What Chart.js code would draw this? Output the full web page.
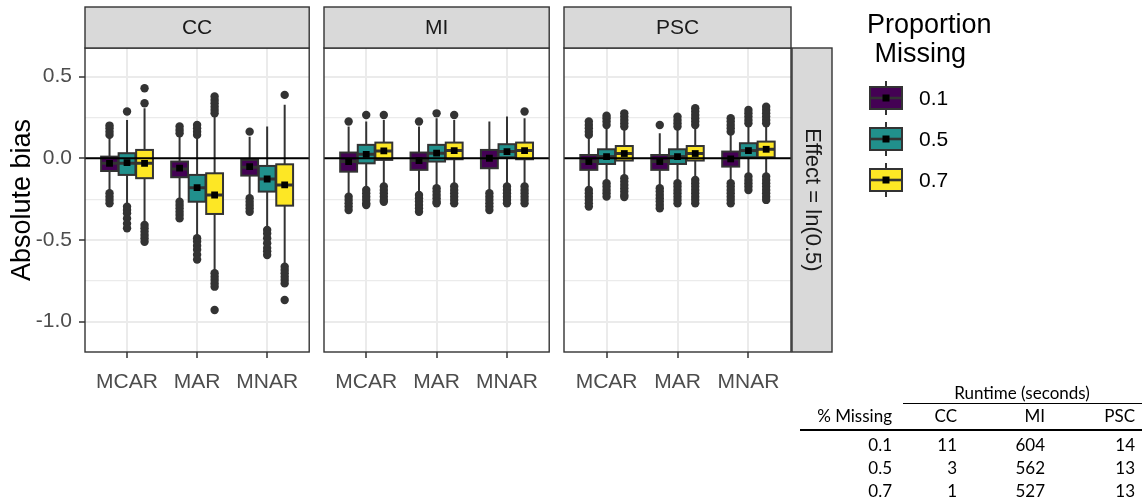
<!DOCTYPE html>
<html>
<head>
<meta charset="utf-8">
<script src="https://cdn.jsdelivr.net/npm/chart.js@4.4.1/dist/chart.umd.min.js"></script>
<style>
  body { margin: 0; background: #fff; width: 1142px; height: 503px; overflow: hidden; position: relative; }
  canvas { position: absolute; top: 0; }
  .cell { position: absolute; white-space: nowrap; font-family: Lato, "Open Sans", sans-serif; font-size: 17px; line-height: 20px; height: 20px; color: #000; }
  .rule { position: absolute; background: #000; }
</style>
</head>
<body>
<canvas id="cc" width="314" height="400" style="left:0px"></canvas>
<canvas id="mi" width="236" height="400" style="left:318px"></canvas>
<canvas id="psc" width="442" height="400" style="left:558px"></canvas>
<div id="runtime"></div>
<script>
// facets, x categories, fill groups
const panels = ['CC', 'MI', 'PSC'];
const mechanisms = ['MCAR', 'MAR', 'MNAR'];
const proportions = ['0.1', '0.5', '0.7'];
const yTicks = [-1.0, -0.75, -0.5, -0.25, 0, 0.25, 0.5];
const refLine = 0;

// boxes in order MCAR 0.1/0.5/0.7, MAR ..., MNAR ...
// [lower whisker, Q1, median, Q3, upper whisker]
const ccBoxes = [
  [-0.204, -0.078, -0.031, 0.010, 0.132],
  [-0.286, -0.102, -0.031, 0.031, 0.235],
  [-0.398, -0.122, -0.031, 0.051, 0.306],
  [-0.255, -0.116, -0.065, -0.020, 0.143],
  [-0.480, -0.266, -0.180, -0.102, 0.132],
  [-0.694, -0.341, -0.225, -0.092, 0.265],
  [-0.235, -0.106, -0.055, -0.010, 0.132],
  [-0.429, -0.204, -0.127, -0.047, 0.194],
  [-0.653, -0.290, -0.163, -0.037, 0.327]
];
const ccMeans = [-0.031, -0.027, -0.031, -0.061, -0.180, -0.225, -0.051, -0.127, -0.163];
const ccOutliers = [
  [0.143, 0.163, 0.184, 0.200, -0.214, -0.235, -0.255, -0.276],
  [0.286, -0.296, -0.317, -0.337, -0.368, -0.400, -0.429],
  [0.337, 0.429, -0.408, -0.429, -0.449, -0.470, -0.490, -0.511],
  [0.153, 0.173, 0.194, -0.266, -0.286, -0.306, -0.327, -0.347, -0.368],
  [0.143, 0.163, 0.184, 0.204, -0.490, -0.510, -0.535, -0.560, -0.590, -0.620],
  [0.275, 0.296, 0.316, 0.337, 0.357, 0.378, -0.704, -0.725, -0.745, -0.766, -0.786, -0.929],
  [0.163, -0.245, -0.266, -0.286, -0.306, -0.327],
  [-0.439, -0.460, -0.490, -0.520, -0.550, -0.570, -0.592],
  [0.388, -0.664, -0.684, -0.704, -0.725, -0.745, -0.766, -0.868]
];

const miBoxes = [
  [-0.225, -0.082, -0.020, 0.035, 0.194],
  [-0.184, -0.031, 0.024, 0.082, 0.225],
  [-0.163, -0.010, 0.045, 0.096, 0.235],
  [-0.214, -0.071, -0.014, 0.035, 0.194],
  [-0.173, -0.020, 0.031, 0.082, 0.245],
  [-0.163, -0.006, 0.047, 0.096, 0.235],
  [-0.204, -0.061, 0.000, 0.051, 0.225],
  [-0.163, 0.006, 0.041, 0.086, 0.255],
  [-0.157, -0.006, 0.047, 0.096, 0.245]
];
const miMeans = [-0.020, 0.024, 0.045, -0.014, 0.031, 0.047, 0.000, 0.041, 0.047];
const miOutliers = [
  [0.225, -0.235, -0.255, -0.276, -0.296, -0.317],
  [0.265, -0.194, -0.214, -0.235, -0.255, -0.276, -0.286],
  [0.265, -0.173, -0.194, -0.214, -0.235, -0.255, -0.266],
  [0.225, -0.225, -0.245, -0.265, -0.286, -0.306, -0.327],
  [0.275, -0.184, -0.204, -0.225, -0.245, -0.265, -0.276],
  [0.265, -0.173, -0.194, -0.214, -0.235, -0.255, -0.276],
  [-0.214, -0.235, -0.255, -0.276, -0.296, -0.317],
  [-0.173, -0.194, -0.214, -0.235, -0.255, -0.276],
  [0.286, -0.173, -0.194, -0.214, -0.235, -0.255, -0.276]
];

const pscBoxes = [
  [-0.184, -0.071, -0.020, 0.020, 0.132],
  [-0.143, -0.035, 0.010, 0.055, 0.194],
  [-0.112, -0.014, 0.029, 0.075, 0.173],
  [-0.173, -0.071, -0.020, 0.020, 0.153],
  [-0.143, -0.035, 0.010, 0.055, 0.173],
  [-0.122, -0.014, 0.029, 0.075, 0.194],
  [-0.143, -0.051, -0.004, 0.041, 0.153],
  [-0.102, 0.006, 0.047, 0.092, 0.204],
  [-0.102, 0.006, 0.055, 0.102, 0.204]
];
const pscMeans = [-0.020, 0.010, 0.029, -0.020, 0.010, 0.029, -0.004, 0.047, 0.055];
const pscOutliers = [
  [0.143, 0.163, 0.184, 0.204, 0.225, -0.194, -0.214, -0.235, -0.255, -0.276, -0.296],
  [0.204, 0.225, 0.245, 0.260, -0.153, -0.173, -0.194, -0.214, -0.235],
  [0.194, 0.214, 0.235, 0.255, 0.275, -0.122, -0.143, -0.163, -0.184, -0.204, -0.225, -0.237],
  [0.204, -0.184, -0.204, -0.225, -0.245, -0.265, -0.286, -0.306],
  [0.194, 0.214, 0.235, 0.255, -0.153, -0.173, -0.194, -0.214, -0.235, -0.255, -0.276],
  [0.204, 0.225, 0.245, 0.265, 0.286, 0.306, -0.133, -0.153, -0.173, -0.194, -0.214, -0.235, -0.255, -0.276],
  [0.163, 0.184, 0.204, 0.225, 0.245, -0.153, -0.173, -0.194, -0.214, -0.235, -0.255, -0.276],
  [0.214, 0.235, 0.255, 0.275, 0.296, -0.112, -0.133, -0.153, -0.173, -0.194],
  [0.214, 0.235, 0.255, 0.275, 0.296, 0.316, -0.112, -0.133, -0.153, -0.173, -0.194, -0.214, -0.235, -0.255]
];

// runtime table
const pctMissing = ['0.1', '0.5', '0.7'];
const runtimeCC = [11, 3, 1];
const runtimeMI = [604, 562, 527];
const runtimePSC = [14, 13, 13];

const rowLabel = 'Effect = ln(0.5)';
const legendTitle = ['Proportion', ' Missing'];

// styles
const FONT = '"Liberation Sans", Arial, sans-serif';
const fills = ['#440154', '#21908C', '#FDE725'];
const ink = '#333333';
const slot = 0.25;     // dodge width / 3
const boxHalf = 0.12;

Chart.defaults.font.family = FONT;

function groupX(i) {
  return Math.floor(i / 3) + 1 + (i % 3 - 1) * slot;
}

function drawKey(ctx, cx, cy, fill) {
  ctx.strokeStyle = ink;
  ctx.lineWidth = 2;
  ctx.beginPath();
  ctx.moveTo(cx, cy - 17); ctx.lineTo(cx, cy + 17);
  ctx.stroke();
  ctx.fillStyle = fill;
  ctx.fillRect(cx - 16, cy - 11, 32, 22);
  ctx.strokeRect(cx - 16, cy - 11, 32, 22);
  ctx.lineWidth = 2.6;
  ctx.beginPath();
  ctx.moveTo(cx - 16, cy); ctx.lineTo(cx + 16, cy);
  ctx.stroke();
  ctx.fillStyle = '#000';
  ctx.fillRect(cx - 3.5, cy - 3.5, 7, 7);
}

const boxPlugin = {
  id: 'boxes',
  beforeDatasetsDraw(chart, args, opts) {
    const { ctx, chartArea: a, scales: { x, y } } = chart;
    ctx.save();
    ctx.beginPath();
    ctx.rect(a.left, a.top, a.width, a.height);
    ctx.clip();
    ctx.strokeStyle = ink;
    opts.boxes.forEach((b, i) => {
      const cx = x.getPixelForValue(groupX(i));
      const x0 = x.getPixelForValue(groupX(i) - boxHalf);
      const x1 = x.getPixelForValue(groupX(i) + boxHalf);
      const [lo, q1, med, q3, hi] = b.map(v => y.getPixelForValue(v));
      ctx.lineWidth = 2;
      ctx.beginPath();
      ctx.moveTo(cx, lo); ctx.lineTo(cx, q1);
      ctx.moveTo(cx, q3); ctx.lineTo(cx, hi);
      ctx.stroke();
      ctx.fillStyle = fills[i % 3];
      ctx.fillRect(x0, q3, x1 - x0, q1 - q3);
      ctx.strokeRect(x0, q3, x1 - x0, q1 - q3);
      ctx.lineWidth = 3;
      ctx.beginPath();
      ctx.moveTo(x0, med); ctx.lineTo(x1, med);
      ctx.stroke();
    });
    ctx.restore();
  },
  afterDraw(chart, args, opts) {
    const { ctx, chartArea: a } = chart;
    ctx.save();
    ctx.strokeStyle = ink;
    ctx.lineWidth = 1.4;
    ctx.strokeRect(a.left, a.top, a.width, a.height);

    // strip on top
    ctx.fillStyle = '#d9d9d9';
    ctx.fillRect(a.left, 7, a.width, a.top - 7);
    ctx.strokeRect(a.left, 7, a.width, a.top - 7);
    ctx.fillStyle = '#1a1a1a';
    ctx.font = '21px ' + FONT;
    ctx.textAlign = 'center';
    ctx.textBaseline = 'middle';
    ctx.fillText(opts.title, (a.left + a.right) / 2, (7 + a.top) / 2 + 1);

    if (opts.rowStrip) {
      const sx = a.right + 1, sw = 40;
      ctx.fillStyle = '#d9d9d9';
      ctx.fillRect(sx, a.top, sw, a.height);
      ctx.strokeRect(sx, a.top, sw, a.height);
      ctx.fillStyle = '#1a1a1a';
      ctx.font = '22px ' + FONT;
      ctx.translate(sx + sw / 2, (a.top + a.bottom) / 2);
      ctx.rotate(Math.PI / 2);
      ctx.fillText(rowLabel, 0, 0);
      ctx.setTransform(1, 0, 0, 1, 0, 0);
    }

    if (opts.legend) {
      const L = a.right;
      ctx.fillStyle = '#000';
      ctx.textAlign = 'left';
      ctx.textBaseline = 'alphabetic';
      ctx.font = '27px ' + FONT;
      legendTitle.forEach((t, i) => ctx.fillText(t, L + 76, 33 + i * 29));
      ctx.font = '21px ' + FONT;
      ctx.textBaseline = 'middle';
      proportions.forEach((p, i) => {
        const cy = 98 + i * 41;
        drawKey(ctx, L + 95, cy, fills[i]);
        ctx.fillStyle = '#000';
        ctx.fillText(p, L + 128, cy + 1);
      });
    }
    ctx.restore();
  }
};

function makeChart(id, idx, boxes, means, outliers, opts) {
  const first = idx === 0;
  const outPts = [];
  outliers.forEach((list, i) => list.forEach(v => outPts.push({ x: groupX(i), y: v })));
  const meanPts = means.map((v, i) => ({ x: groupX(i), y: v }));

  return new Chart(document.getElementById(id), {
    type: 'scatter',
    data: {
      datasets: [
        {
          label: 'mean',
          data: meanPts,
          pointStyle: 'rect',
          pointRadius: 4.8,
          backgroundColor: '#000',
          borderWidth: 0,
          order: 0
        },
        {
          type: 'line',
          label: 'zero',
          data: [{ x: 0.4, y: refLine }, { x: 3.6, y: refLine }],
          borderColor: '#000',
          borderWidth: 1.8,
          pointRadius: 0,
          order: 1
        },
        {
          label: 'outliers',
          data: outPts,
          pointStyle: 'circle',
          pointRadius: 4.2,
          backgroundColor: ink,
          borderWidth: 0,
          order: 2
        }
      ]
    },
    options: {
      responsive: false,
      animation: false,
      events: [],
      layout: { padding: { left: first ? 0 : 6, right: opts.padRight, top: 48, bottom: 8 } },
      plugins: {
        legend: { display: false },
        tooltip: { enabled: false },
        boxes: { boxes: boxes, title: panels[idx], rowStrip: !!opts.rowStrip, legend: !!opts.legend }
      },
      scales: {
        x: {
          type: 'linear',
          min: 0.4,
          max: 3.6,
          afterBuildTicks: s => { s.ticks = mechanisms.map((m, i) => ({ value: i + 1 })); },
          afterFit: s => { s.height = 40; },
          ticks: {
            callback: v => mechanisms[v - 1],
            color: '#4d4d4d',
            font: { size: 21 },
            padding: 12,
            maxRotation: 0,
            autoSkip: false
          },
          grid: { color: '#ebebeb', lineWidth: 2, tickLength: 6, tickColor: ink, tickWidth: 1.5 },
          border: { display: false }
        },
        y: {
          type: 'linear',
          min: -1.186,
          max: 0.675,
          afterBuildTicks: s => { s.ticks = yTicks.map(v => ({ value: v })); },
          afterFit: s => { s.width = first ? 85 : 0; },
          ticks: {
            display: first,
            callback: v => ((v * 2) % 1 === 0 ? v.toFixed(1) : ''),
            color: '#4d4d4d',
            font: { size: 21 },
            padding: 7
          },
          grid: {
            color: '#ebebeb',
            lineWidth: c => ((c.tick.value * 2) % 1 === 0 ? 2 : 1.2),
            drawTicks: first,
            tickLength: 6,
            tickWidth: 1.5,
            tickColor: c => ((c.tick.value * 2) % 1 === 0 ? ink : 'rgba(0,0,0,0)')
          },
          border: { display: false },
          title: {
            display: first,
            text: 'Absolute bias',
            color: '#000',
            font: { size: 27 },
            padding: { top: 6, bottom: 0 }
          }
        }
      }
    },
    plugins: [boxPlugin]
  });
}

makeChart('cc', 0, ccBoxes, ccMeans, ccOutliers, { padRight: 2 });
makeChart('mi', 1, miBoxes, miMeans, miOutliers, { padRight: 2 });
makeChart('psc', 2, pscBoxes, pscMeans, pscOutliers, { padRight: 209, rowStrip: true, legend: true });

// runtime table (html text)
const tbl = document.getElementById('runtime');
function cell(text, right, centerY, align) {
  const d = document.createElement('div');
  d.className = 'cell';
  d.textContent = text;
  d.style.top = (centerY - 10) + 'px';
  if (align === 'center') {
    d.style.left = (right - 100) + 'px';
    d.style.width = '200px';
    d.style.textAlign = 'center';
  } else {
    d.style.left = (right - 120) + 'px';
    d.style.width = '120px';
    d.style.textAlign = 'right';
  }
  tbl.appendChild(d);
}
function rule(left, top, width, h) {
  const d = document.createElement('div');
  d.className = 'rule';
  d.style.left = left + 'px';
  d.style.top = top + 'px';
  d.style.width = width + 'px';
  d.style.height = h + 'px';
  tbl.appendChild(d);
}
const colRight = [892, 957, 1045, 1135];
cell('Runtime (seconds)', 1022, 393, 'center');
rule(903, 403, 239, 1);
['% Missing'].concat(panels).forEach((h, j) => cell(h, colRight[j], 416, 'right'));
rule(800, 429, 342, 2);
pctMissing.forEach((p, r) => {
  const cy = 445 + r * 23;
  [p, runtimeCC[r], runtimeMI[r], runtimePSC[r]].forEach((v, j) => cell(String(v), colRight[j], cy, 'right'));
});
</script>
</body>
</html>
